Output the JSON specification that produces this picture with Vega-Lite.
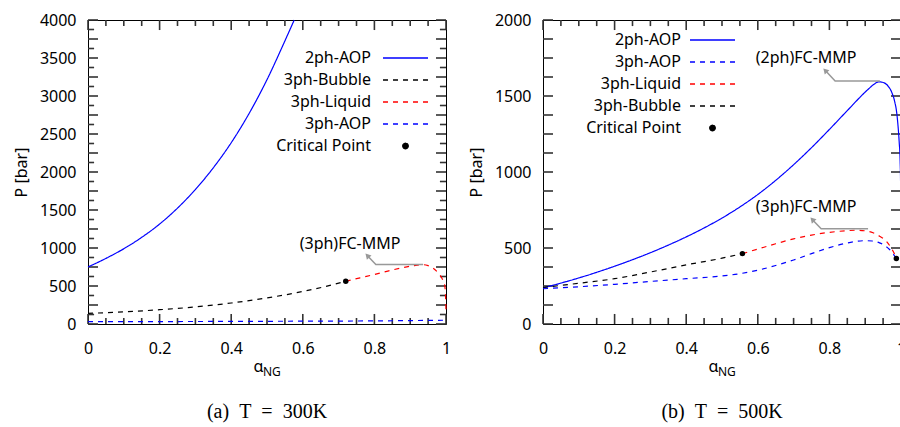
{
  "$schema": "https://vega.github.io/schema/vega-lite/v6.json",
  "padding": {"left": 12, "top": 11, "right": 2, "bottom": 5},
  "spacing": 15,
  "resolve": {
    "scale": {"color": "independent", "strokeDash": "independent"},
    "legend": {"color": "independent", "strokeDash": "independent"}
  },
  "config": {
    "view": {"stroke": "black", "strokeWidth": 1},
    "font": "Noto Sans",
    "axis": {
      "grid": false,
      "domain": false,
      "ticks": false,
      "labelFont": "Noto Sans",
      "labelFontSize": 16,
      "labelColor": "black",
      "titleFont": "Noto Sans",
      "titleFontSize": 16,
      "titleFontWeight": "normal",
      "titleColor": "black",
      "labelFlush": false,
      "labelOverlap": false
    },
    "rule": {"color": "#333333", "strokeWidth": 1.6, "opacity": 1},
    "legend": {
      "labelFont": "Noto Sans",
      "labelFontSize": 16,
      "labelColor": "black",
      "labelAlign": "right",
      "symbolSize": 100,
      "symbolStrokeWidth": 1.3,
      "rowPadding": 6,
      "padding": 0
    }
  },
  "datasets": {
    "tick_x": [
      {"v": 0, "major": true}, {"v": 0.05, "major": false}, {"v": 0.1, "major": false}, {"v": 0.15, "major": false},
      {"v": 0.2, "major": true}, {"v": 0.25, "major": false}, {"v": 0.3, "major": false}, {"v": 0.35, "major": false},
      {"v": 0.4, "major": true}, {"v": 0.45, "major": false}, {"v": 0.5, "major": false}, {"v": 0.55, "major": false},
      {"v": 0.6, "major": true}, {"v": 0.65, "major": false}, {"v": 0.7, "major": false}, {"v": 0.75, "major": false},
      {"v": 0.8, "major": true}, {"v": 0.85, "major": false}, {"v": 0.9, "major": false}, {"v": 0.95, "major": false},
      {"v": 1, "major": true}
    ],
    "tick_y_a": [
      {"v": 0, "major": true}, {"v": 125, "major": false}, {"v": 250, "major": true}, {"v": 375, "major": false},
      {"v": 500, "major": true}, {"v": 625, "major": false}, {"v": 750, "major": true}, {"v": 875, "major": false},
      {"v": 1000, "major": true}, {"v": 1125, "major": false}, {"v": 1250, "major": true}, {"v": 1375, "major": false},
      {"v": 1500, "major": true}, {"v": 1625, "major": false}, {"v": 1750, "major": true}, {"v": 1875, "major": false},
      {"v": 2000, "major": true}, {"v": 2125, "major": false}, {"v": 2250, "major": true}, {"v": 2375, "major": false},
      {"v": 2500, "major": true}, {"v": 2625, "major": false}, {"v": 2750, "major": true}, {"v": 2875, "major": false},
      {"v": 3000, "major": true}, {"v": 3125, "major": false}, {"v": 3250, "major": true}, {"v": 3375, "major": false},
      {"v": 3500, "major": true}, {"v": 3625, "major": false}, {"v": 3750, "major": true}, {"v": 3875, "major": false},
      {"v": 4000, "major": true}
    ],
    "tick_y_b": [
      {"v": 0}, {"v": 125}, {"v": 250}, {"v": 375}, {"v": 500}, {"v": 625}, {"v": 750}, {"v": 875}, {"v": 1000},
      {"v": 1125}, {"v": 1250}, {"v": 1375}, {"v": 1500}, {"v": 1625}, {"v": 1750}, {"v": 1875}, {"v": 2000}
    ],
    "curves_a": [
      {"series": "2ph-AOP", "x": 0, "p": 750},
      {"series": "2ph-AOP", "x": 0.05, "p": 863},
      {"series": "2ph-AOP", "x": 0.1, "p": 990},
      {"series": "2ph-AOP", "x": 0.15, "p": 1140},
      {"series": "2ph-AOP", "x": 0.2, "p": 1315},
      {"series": "2ph-AOP", "x": 0.25, "p": 1525},
      {"series": "2ph-AOP", "x": 0.3, "p": 1770},
      {"series": "2ph-AOP", "x": 0.35, "p": 2055},
      {"series": "2ph-AOP", "x": 0.4, "p": 2385},
      {"series": "2ph-AOP", "x": 0.45, "p": 2770},
      {"series": "2ph-AOP", "x": 0.5, "p": 3215},
      {"series": "2ph-AOP", "x": 0.55, "p": 3725},
      {"series": "2ph-AOP", "x": 0.576, "p": 4000},
      {"series": "3ph-Bubble", "x": 0, "p": 140},
      {"series": "3ph-Bubble", "x": 0.1, "p": 160},
      {"series": "3ph-Bubble", "x": 0.2, "p": 188},
      {"series": "3ph-Bubble", "x": 0.3, "p": 225},
      {"series": "3ph-Bubble", "x": 0.4, "p": 276},
      {"series": "3ph-Bubble", "x": 0.5, "p": 343},
      {"series": "3ph-Bubble", "x": 0.6, "p": 428},
      {"series": "3ph-Bubble", "x": 0.66, "p": 490},
      {"series": "3ph-Bubble", "x": 0.72, "p": 562},
      {"series": "3ph-Liquid", "x": 0.72, "p": 562},
      {"series": "3ph-Liquid", "x": 0.76, "p": 608},
      {"series": "3ph-Liquid", "x": 0.8, "p": 652},
      {"series": "3ph-Liquid", "x": 0.84, "p": 700},
      {"series": "3ph-Liquid", "x": 0.88, "p": 742},
      {"series": "3ph-Liquid", "x": 0.91, "p": 767},
      {"series": "3ph-Liquid", "x": 0.936, "p": 780},
      {"series": "3ph-Liquid", "x": 0.95, "p": 768},
      {"series": "3ph-Liquid", "x": 0.964, "p": 735},
      {"series": "3ph-Liquid", "x": 0.978, "p": 672},
      {"series": "3ph-Liquid", "x": 0.99, "p": 590},
      {"series": "3ph-Liquid", "x": 0.996, "p": 519},
      {"series": "3ph-Liquid", "x": 0.9985, "p": 400},
      {"series": "3ph-Liquid", "x": 1.0, "p": 160},
      {"series": "3ph-AOP", "x": 0, "p": 31},
      {"series": "3ph-AOP", "x": 0.3, "p": 33},
      {"series": "3ph-AOP", "x": 0.6, "p": 37},
      {"series": "3ph-AOP", "x": 0.8, "p": 41},
      {"series": "3ph-AOP", "x": 0.9, "p": 45},
      {"series": "3ph-AOP", "x": 1.0, "p": 50}
    ],
    "curves_b": [
      {"series": "2ph-AOP", "x": 0, "p": 237},
      {"series": "2ph-AOP", "x": 0.05, "p": 269},
      {"series": "2ph-AOP", "x": 0.1, "p": 303},
      {"series": "2ph-AOP", "x": 0.15, "p": 340},
      {"series": "2ph-AOP", "x": 0.2, "p": 380},
      {"series": "2ph-AOP", "x": 0.25, "p": 423},
      {"series": "2ph-AOP", "x": 0.3, "p": 469},
      {"series": "2ph-AOP", "x": 0.35, "p": 519},
      {"series": "2ph-AOP", "x": 0.4, "p": 573},
      {"series": "2ph-AOP", "x": 0.45, "p": 632},
      {"series": "2ph-AOP", "x": 0.5, "p": 697},
      {"series": "2ph-AOP", "x": 0.55, "p": 770},
      {"series": "2ph-AOP", "x": 0.6, "p": 852},
      {"series": "2ph-AOP", "x": 0.65, "p": 945},
      {"series": "2ph-AOP", "x": 0.7, "p": 1048},
      {"series": "2ph-AOP", "x": 0.75, "p": 1160},
      {"series": "2ph-AOP", "x": 0.8, "p": 1280},
      {"series": "2ph-AOP", "x": 0.85, "p": 1404},
      {"series": "2ph-AOP", "x": 0.9, "p": 1526},
      {"series": "2ph-AOP", "x": 0.91, "p": 1548},
      {"series": "2ph-AOP", "x": 0.925, "p": 1578},
      {"series": "2ph-AOP", "x": 0.938, "p": 1593},
      {"series": "2ph-AOP", "x": 0.95, "p": 1589},
      {"series": "2ph-AOP", "x": 0.964, "p": 1565},
      {"series": "2ph-AOP", "x": 0.974, "p": 1525},
      {"series": "2ph-AOP", "x": 0.982, "p": 1467},
      {"series": "2ph-AOP", "x": 0.988, "p": 1390},
      {"series": "2ph-AOP", "x": 0.992, "p": 1295},
      {"series": "2ph-AOP", "x": 0.995, "p": 1195},
      {"series": "2ph-AOP", "x": 0.9975, "p": 1080},
      {"series": "2ph-AOP", "x": 0.999, "p": 900},
      {"series": "2ph-AOP", "x": 1.0, "p": 440},
      {"series": "3ph-AOP", "x": 0, "p": 232},
      {"series": "3ph-AOP", "x": 0.1, "p": 245},
      {"series": "3ph-AOP", "x": 0.2, "p": 261},
      {"series": "3ph-AOP", "x": 0.3, "p": 280},
      {"series": "3ph-AOP", "x": 0.4, "p": 298},
      {"series": "3ph-AOP", "x": 0.5, "p": 316},
      {"series": "3ph-AOP", "x": 0.55, "p": 331},
      {"series": "3ph-AOP", "x": 0.6, "p": 354},
      {"series": "3ph-AOP", "x": 0.65, "p": 385},
      {"series": "3ph-AOP", "x": 0.7, "p": 421},
      {"series": "3ph-AOP", "x": 0.75, "p": 463},
      {"series": "3ph-AOP", "x": 0.8, "p": 502},
      {"series": "3ph-AOP", "x": 0.85, "p": 533},
      {"series": "3ph-AOP", "x": 0.9, "p": 548},
      {"series": "3ph-AOP", "x": 0.92, "p": 546},
      {"series": "3ph-AOP", "x": 0.94, "p": 534},
      {"series": "3ph-AOP", "x": 0.955, "p": 515},
      {"series": "3ph-AOP", "x": 0.968, "p": 490},
      {"series": "3ph-AOP", "x": 0.978, "p": 462},
      {"series": "3ph-AOP", "x": 0.987, "p": 431},
      {"series": "3ph-Liquid", "x": 0.557, "p": 463},
      {"series": "3ph-Liquid", "x": 0.6, "p": 493},
      {"series": "3ph-Liquid", "x": 0.65, "p": 528},
      {"series": "3ph-Liquid", "x": 0.7, "p": 560},
      {"series": "3ph-Liquid", "x": 0.75, "p": 585},
      {"series": "3ph-Liquid", "x": 0.8, "p": 603},
      {"series": "3ph-Liquid", "x": 0.85, "p": 614},
      {"series": "3ph-Liquid", "x": 0.875, "p": 617},
      {"series": "3ph-Liquid", "x": 0.9, "p": 613},
      {"series": "3ph-Liquid", "x": 0.922, "p": 600},
      {"series": "3ph-Liquid", "x": 0.94, "p": 578},
      {"series": "3ph-Liquid", "x": 0.959, "p": 545},
      {"series": "3ph-Liquid", "x": 0.97, "p": 510},
      {"series": "3ph-Liquid", "x": 0.978, "p": 479},
      {"series": "3ph-Liquid", "x": 0.987, "p": 431},
      {"series": "3ph-Bubble", "x": 0, "p": 240},
      {"series": "3ph-Bubble", "x": 0.1, "p": 268},
      {"series": "3ph-Bubble", "x": 0.2, "p": 298},
      {"series": "3ph-Bubble", "x": 0.3, "p": 342},
      {"series": "3ph-Bubble", "x": 0.4, "p": 389},
      {"series": "3ph-Bubble", "x": 0.5, "p": 433},
      {"series": "3ph-Bubble", "x": 0.557, "p": 463}
    ],
    "crit_a": [{"x": 0.72, "p": 562}],
    "crit_b": [{"x": 0.557, "p": 463}, {"x": 0.987, "p": 431}],
    "arrow_a": [
      {"a": "3ph", "node": "tip", "x": 0.782, "p": 892},
      {"a": "3ph", "node": "corner", "x": 0.804, "p": 782},
      {"a": "3ph", "node": "start", "x": 0.936, "p": 782}
    ],
    "arrow_b": [
      {"a": "2ph", "node": "tip", "x": 0.79, "p": 1664},
      {"a": "2ph", "node": "corner", "x": 0.816, "p": 1598},
      {"a": "2ph", "node": "start", "x": 0.941, "p": 1598},
      {"a": "3ph", "node": "tip", "x": 0.754, "p": 683},
      {"a": "3ph", "node": "corner", "x": 0.777, "p": 626},
      {"a": "3ph", "node": "start", "x": 0.908, "p": 626}
    ],
    "note_a": [{"x": 0.732, "p": 1050, "label": "(3ph)FC-MMP"}],
    "note_b": [
      {"x": 0.735, "p": 1750, "label": "(2ph)FC-MMP"},
      {"x": 0.735, "p": 768, "label": "(3ph)FC-MMP"}
    ]
  },
  "hconcat": [
    {
      "width": 358,
      "height": 304,
      "title": {"text": "(a)\u2002T\u2002=\u2002300K", "orient": "bottom", "anchor": "middle", "font": "Liberation Serif", "fontSize": 20, "fontWeight": "normal", "color": "black", "offset": 24},
      "resolve": {"axis": {"x": "independent", "y": "independent"}},
      "layer": [
        {
          "data": {"name": "tick_x"},
          "transform": [{"filter": "datum.major"}],
          "mark": {"type": "rule"},
          "encoding": {
            "x": {"field": "v", "type": "quantitative", "scale": {"domain": [0, 1], "nice": false, "zero": false}, "axis": null},
            "y": {"datum": 0, "type": "quantitative", "scale": {"domain": [0, 4000], "nice": false}, "axis": null},
            "y2": {"datum": 132}
          }
        },
        {
          "data": {"name": "tick_x"},
          "transform": [{"filter": "!datum.major"}],
          "mark": {"type": "rule"},
          "encoding": {
            "x": {"field": "v", "type": "quantitative", "axis": null},
            "y": {"datum": 0, "type": "quantitative", "axis": null},
            "y2": {"datum": 79}
          }
        },
        {
          "data": {"name": "tick_x"},
          "transform": [{"filter": "datum.major"}],
          "mark": {"type": "rule"},
          "encoding": {
            "x": {"field": "v", "type": "quantitative", "axis": null},
            "y": {"datum": 4000, "type": "quantitative", "axis": null},
            "y2": {"datum": 3868}
          }
        },
        {
          "data": {"name": "tick_x"},
          "transform": [{"filter": "!datum.major"}],
          "mark": {"type": "rule"},
          "encoding": {
            "x": {"field": "v", "type": "quantitative", "axis": null},
            "y": {"datum": 4000, "type": "quantitative", "axis": null},
            "y2": {"datum": 3921}
          }
        },
        {
          "data": {"name": "tick_y_a"},
          "transform": [{"filter": "datum.major"}],
          "mark": {"type": "rule"},
          "encoding": {
            "y": {"field": "v", "type": "quantitative", "axis": null},
            "x": {"datum": 0, "type": "quantitative", "axis": null},
            "x2": {"datum": 0.028}
          }
        },
        {
          "data": {"name": "tick_y_a"},
          "transform": [{"filter": "!datum.major"}],
          "mark": {"type": "rule"},
          "encoding": {
            "y": {"field": "v", "type": "quantitative", "axis": null},
            "x": {"datum": 0, "type": "quantitative", "axis": null},
            "x2": {"datum": 0.017}
          }
        },
        {
          "data": {"name": "tick_y_a"},
          "transform": [{"filter": "datum.major"}],
          "mark": {"type": "rule"},
          "encoding": {
            "y": {"field": "v", "type": "quantitative", "axis": null},
            "x": {"datum": 1, "type": "quantitative", "axis": null},
            "x2": {"datum": 0.972}
          }
        },
        {
          "data": {"name": "tick_y_a"},
          "transform": [{"filter": "!datum.major"}],
          "mark": {"type": "rule"},
          "encoding": {
            "y": {"field": "v", "type": "quantitative", "axis": null},
            "x": {"datum": 1, "type": "quantitative", "axis": null},
            "x2": {"datum": 0.983}
          }
        },
        {
          "data": {"name": "curves_a"},
          "mark": {"type": "line", "strokeWidth": 1.2, "interpolate": "monotone"},
          "encoding": {
            "x": {
              "field": "x", "type": "quantitative",
              "scale": {"domain": [0, 1], "nice": false, "zero": false},
              "axis": {
                "orient": "bottom",
                "values": [0, 0.2, 0.4, 0.6, 0.8, 1],
                "labelExpr": "format(datum.value, '~g')",
                "labelPadding": 16,
                "title": "α",
                "titleX": 170,
                "titleY": 42,
                "titleBaseline": "middle"
              }
            },
            "y": {
              "field": "p", "type": "quantitative",
              "scale": {"domain": [0, 4000], "nice": false},
              "axis": {
                "orient": "left",
                "values": [0, 500, 1000, 1500, 2000, 2500, 3000, 3500, 4000],
                "labelExpr": "format(datum.value, 'd')",
                "labelPadding": 12,
                "title": "P [bar]",
                "titlePadding": 10
              }
            },
            "color": {
              "field": "series", "type": "nominal",
              "scale": {
                "domain": ["2ph-AOP", "3ph-Bubble", "3ph-Liquid", "3ph-AOP", "Critical Point"],
                "range": ["#0000ff", "#000000", "#ff0000", "#0000ff", "#000000"]
              },
              "legend": {
                "orient": "none",
                "legendX": 287,
                "legendY": 30,
                "title": null,
                "labelOffset": -20,
                "encode": {
                  "symbols": {
                    "update": {
                      "shape": {"signal": "datum.value === 'Critical Point' ? 'M5.05,0A0.55,0.55,0,1,1,3.95,0A0.55,0.55,0,1,1,5.05,0Z' : 'M0,0H9'"},
                      "fill": {"signal": "datum.value === 'Critical Point' ? 'black' : 'transparent'"},
                      "strokeDash": {"signal": "datum.value === '2ph-AOP' || datum.value === 'Critical Point' ? [1, 0] : [5, 5]"}
                    }
                  }
                }
              }
            },
            "strokeDash": {
              "field": "series", "type": "nominal",
              "scale": {
                "domain": ["2ph-AOP", "3ph-Bubble", "3ph-Liquid", "3ph-AOP", "Critical Point"],
                "range": [[1, 0], [5, 5], [5, 5], [5, 5], [1, 0]]
              },
              "legend": null
            }
          }
        },
        {
          "data": {"name": "crit_a"},
          "mark": {"type": "point", "filled": true, "color": "black", "size": 30, "opacity": 1},
          "encoding": {
            "x": {"field": "x", "type": "quantitative", "axis": null},
            "y": {"field": "p", "type": "quantitative", "axis": null}
          }
        },
        {
          "data": {"name": "arrow_a"},
          "mark": {"type": "line", "color": "#999999", "strokeWidth": 1.5},
          "encoding": {
            "x": {"field": "x", "type": "quantitative", "axis": null},
            "y": {"field": "p", "type": "quantitative", "axis": null},
            "detail": {"field": "a"}
          }
        },
        {
          "data": {"name": "arrow_a"},
          "transform": [{"filter": "datum.node === 'tip'"}],
          "mark": {"type": "point", "shape": "triangle", "filled": true, "color": "#999999", "size": 40, "angle": 317, "opacity": 1},
          "encoding": {
            "x": {"field": "x", "type": "quantitative", "axis": null},
            "y": {"field": "p", "type": "quantitative", "axis": null}
          }
        },
        {
          "data": {"name": "note_a"},
          "mark": {"type": "text", "font": "Noto Sans", "fontSize": 16, "color": "black"},
          "encoding": {
            "x": {"field": "x", "type": "quantitative", "axis": null},
            "y": {"field": "p", "type": "quantitative", "axis": null},
            "text": {"field": "label"}
          }
        },
        {
          "data": {"values": [{}]},
          "mark": {"type": "text", "font": "Noto Sans", "fontSize": 12, "color": "black", "align": "left", "baseline": "alphabetic", "dx": -4, "dy": 52},
          "encoding": {
            "x": {"datum": 0.5, "type": "quantitative", "axis": null},
            "y": {"datum": 0, "type": "quantitative", "axis": null},
            "text": {"value": "NG"}
          }
        }
      ]
    },
    {
      "width": 358,
      "height": 304,
      "title": {"text": "(b)\u2002T\u2002=\u2002500K", "orient": "bottom", "anchor": "middle", "font": "Liberation Serif", "fontSize": 20, "fontWeight": "normal", "color": "black", "offset": 24},
      "resolve": {"axis": {"x": "independent", "y": "independent"}},
      "layer": [
        {
          "data": {"name": "tick_x"},
          "transform": [{"filter": "datum.major"}],
          "mark": {"type": "rule"},
          "encoding": {
            "x": {"field": "v", "type": "quantitative", "scale": {"domain": [0, 1], "nice": false, "zero": false}, "axis": null},
            "y": {"datum": 0, "type": "quantitative", "scale": {"domain": [0, 2000], "nice": false}, "axis": null},
            "y2": {"datum": 66}
          }
        },
        {
          "data": {"name": "tick_x"},
          "transform": [{"filter": "!datum.major"}],
          "mark": {"type": "rule"},
          "encoding": {
            "x": {"field": "v", "type": "quantitative", "axis": null},
            "y": {"datum": 0, "type": "quantitative", "axis": null},
            "y2": {"datum": 40}
          }
        },
        {
          "data": {"name": "tick_x"},
          "transform": [{"filter": "datum.major"}],
          "mark": {"type": "rule"},
          "encoding": {
            "x": {"field": "v", "type": "quantitative", "axis": null},
            "y": {"datum": 2000, "type": "quantitative", "axis": null},
            "y2": {"datum": 1934}
          }
        },
        {
          "data": {"name": "tick_x"},
          "transform": [{"filter": "!datum.major"}],
          "mark": {"type": "rule"},
          "encoding": {
            "x": {"field": "v", "type": "quantitative", "axis": null},
            "y": {"datum": 2000, "type": "quantitative", "axis": null},
            "y2": {"datum": 1960}
          }
        },
        {
          "data": {"name": "tick_y_b"},
          "mark": {"type": "rule"},
          "encoding": {
            "y": {"field": "v", "type": "quantitative", "axis": null},
            "x": {"datum": 0, "type": "quantitative", "axis": null},
            "x2": {"datum": 0.028}
          }
        },
        {
          "data": {"name": "tick_y_b"},
          "mark": {"type": "rule"},
          "encoding": {
            "y": {"field": "v", "type": "quantitative", "axis": null},
            "x": {"datum": 1, "type": "quantitative", "axis": null},
            "x2": {"datum": 0.972}
          }
        },
        {
          "data": {"name": "curves_b"},
          "mark": {"type": "line", "strokeWidth": 1.2, "interpolate": "monotone"},
          "encoding": {
            "x": {
              "field": "x", "type": "quantitative",
              "scale": {"domain": [0, 1], "nice": false, "zero": false},
              "axis": {
                "orient": "bottom",
                "values": [0, 0.2, 0.4, 0.6, 0.8, 1],
                "labelExpr": "format(datum.value, '~g')",
                "labelPadding": 16,
                "title": "α",
                "titleX": 170,
                "titleY": 42,
                "titleBaseline": "middle"
              }
            },
            "y": {
              "field": "p", "type": "quantitative",
              "scale": {"domain": [0, 2000], "nice": false},
              "axis": {
                "orient": "left",
                "values": [0, 500, 1000, 1500, 2000],
                "labelExpr": "format(datum.value, 'd')",
                "labelPadding": 12,
                "title": "P [bar]",
                "titlePadding": 10
              }
            },
            "color": {
              "field": "series", "type": "nominal",
              "scale": {
                "domain": ["2ph-AOP", "3ph-AOP", "3ph-Liquid", "3ph-Bubble", "Critical Point"],
                "range": ["#0000ff", "#0000ff", "#ff0000", "#000000", "#000000"]
              },
              "legend": {
                "orient": "none",
                "legendX": 139,
                "legendY": 12,
                "title": null,
                "labelOffset": -17,
                "encode": {
                  "symbols": {
                    "update": {
                      "shape": {"signal": "datum.value === 'Critical Point' ? 'M5.05,0A0.55,0.55,0,1,1,3.95,0A0.55,0.55,0,1,1,5.05,0Z' : 'M0,0H9'"},
                      "fill": {"signal": "datum.value === 'Critical Point' ? 'black' : 'transparent'"},
                      "strokeDash": {"signal": "datum.value === '2ph-AOP' || datum.value === 'Critical Point' ? [1, 0] : [5, 5]"}
                    }
                  }
                }
              }
            },
            "strokeDash": {
              "field": "series", "type": "nominal",
              "scale": {
                "domain": ["2ph-AOP", "3ph-AOP", "3ph-Liquid", "3ph-Bubble", "Critical Point"],
                "range": [[1, 0], [5, 5], [5, 5], [5, 5], [1, 0]]
              },
              "legend": null
            }
          }
        },
        {
          "data": {"name": "crit_b"},
          "mark": {"type": "point", "filled": true, "color": "black", "size": 30, "opacity": 1},
          "encoding": {
            "x": {"field": "x", "type": "quantitative", "axis": null},
            "y": {"field": "p", "type": "quantitative", "axis": null}
          }
        },
        {
          "data": {"name": "arrow_b"},
          "mark": {"type": "line", "color": "#999999", "strokeWidth": 1.5},
          "encoding": {
            "x": {"field": "x", "type": "quantitative", "axis": null},
            "y": {"field": "p", "type": "quantitative", "axis": null},
            "detail": {"field": "a"}
          }
        },
        {
          "data": {"name": "arrow_b"},
          "transform": [{"filter": "datum.node === 'tip'"}],
          "mark": {"type": "point", "shape": "triangle", "filled": true, "color": "#999999", "size": 40, "angle": 317, "opacity": 1},
          "encoding": {
            "x": {"field": "x", "type": "quantitative", "axis": null},
            "y": {"field": "p", "type": "quantitative", "axis": null}
          }
        },
        {
          "data": {"name": "note_b"},
          "mark": {"type": "text", "font": "Noto Sans", "fontSize": 16, "color": "black"},
          "encoding": {
            "x": {"field": "x", "type": "quantitative", "axis": null},
            "y": {"field": "p", "type": "quantitative", "axis": null},
            "text": {"field": "label"}
          }
        },
        {
          "data": {"values": [{}]},
          "mark": {"type": "text", "font": "Noto Sans", "fontSize": 12, "color": "black", "align": "left", "baseline": "alphabetic", "dx": -4, "dy": 52},
          "encoding": {
            "x": {"datum": 0.5, "type": "quantitative", "axis": null},
            "y": {"datum": 0, "type": "quantitative", "axis": null},
            "text": {"value": "NG"}
          }
        }
      ]
    }
  ]
}
